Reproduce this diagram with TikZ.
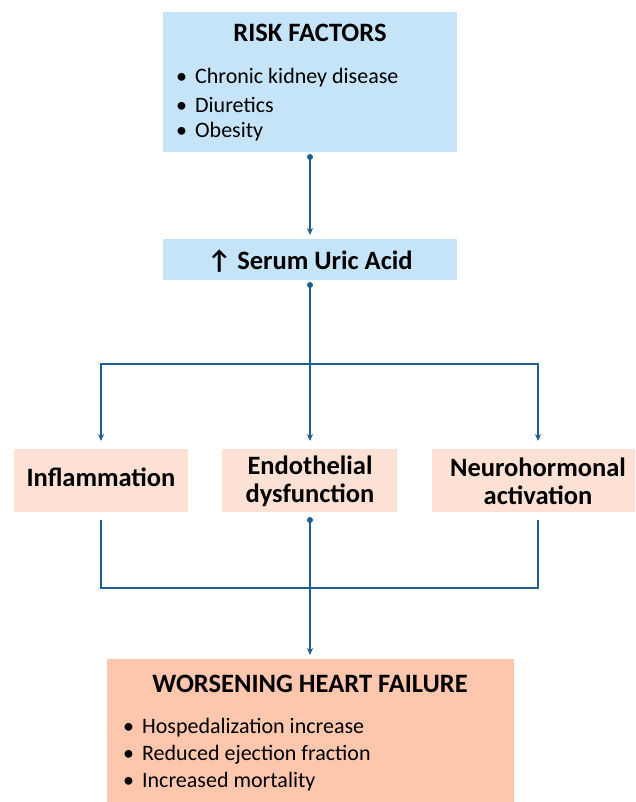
\documentclass[tikz,border=0pt]{standalone}
\usepackage{fontspec}
\setmainfont{Carlito}
\usetikzlibrary{arrows.meta}
\definecolor{bluebox}{HTML}{C6E4F8}
\definecolor{peachbox}{HTML}{FCE1D4}
\definecolor{hfbox}{HTML}{FCC7AD}
\definecolor{linkc}{HTML}{1F5E92}
\tikzset{
  box/.style={draw=none, inner sep=0pt, anchor=north west},
  ttl/.style={font=\fontsize{26.5}{28}\selectfont\bfseries, align=center, inner sep=0pt},
  itm/.style={font=\fontsize{22}{26}\selectfont, anchor=west, inner sep=0pt},
  link/.style={draw=linkc, line width=1.1pt},
  arr/.style={link, -{Stealth[length=7pt,width=6pt]}},
  dot/.style={circle, fill=linkc, inner sep=0pt, minimum size=6pt},
}
\begin{document}
\begin{tikzpicture}[x=1pt,y=-1pt]
\useasboundingbox (0,0) rectangle (635,802);
% boxes
\node[box, fill=bluebox, minimum width=294pt, minimum height=140pt] (rf) at (163,12) {};
\node[box, fill=bluebox, minimum width=294pt, minimum height=41pt] (sua) at (163,239) {};
\node[box, fill=peachbox, minimum width=174pt, minimum height=63pt] (inf) at (14,449) {};
\node[box, fill=peachbox, minimum width=175pt, minimum height=63pt] (endo) at (222,449) {};
\node[box, fill=peachbox, minimum width=203pt, minimum height=63pt] (neuro) at (432,449) {};
\node[box, fill=hfbox, minimum width=407pt, minimum height=143pt] (hf) at (107,659) {};
% texts
\node[ttl] (rft) at (310,33) {RISK FACTORS};
\node[itm] (rf1) at (176,78) {•\hspace{8pt}Chronic kidney disease};
\node[itm] (rf2) at (176,105) {•\hspace{8pt}Diuretics};
\node[itm] (rf3) at (176,132) {•\hspace{8pt}Obesity};
\node[ttl] (suat) at (310,261) {↑ Serum Uric Acid};
\node[ttl] (inft) at (101,477) {Inflammation};
\node[ttl] (endot) at (310,481) {Endothelial\\dysfunction};
\node[ttl] (neurot) at (538,481) {Neurohormonal\\activation};
\node[ttl] (hft) at (310,684) {WORSENING HEART FAILURE};
\node[itm] (hf1) at (123,728) {•\hspace{8pt}Hospedalization increase};
\node[itm] (hf2) at (123,755) {•\hspace{8pt}Reduced ejection fraction};
\node[itm] (hf3) at (123,782) {•\hspace{8pt}Increased mortality};
% connector points
\node[dot] (rfb) at (310,157) {};
\coordinate (suai) at (310,235);
\node[dot] (suab) at (310,285) {};
\coordinate (br) at (310,364);
\coordinate (brl) at (101,364);
\coordinate (brr) at (538,364);
\coordinate (infi) at (101,441);
\coordinate (endoi) at (310,441);
\coordinate (neuroi) at (538,441);
\coordinate (infb) at (101,520);
\node[dot] (endob) at (310,520) {};
\coordinate (neurob) at (538,520);
\coordinate (jl) at (101,588);
\coordinate (jr) at (538,588);
\coordinate (hfi) at (310,655);
% connectors
\draw[arr] (rfb.center) -- (suai);
\draw[arr] (suab.center) -- (endoi);
\draw[arr] (br) -- (brl) -- (infi);
\draw[arr] (br) -- (brr) -- (neuroi);
\draw[link] (infb) -- (jl) -- (jr) -- (neurob);
\draw[arr] (endob.center) -- (hfi);
\end{tikzpicture}
\end{document}
